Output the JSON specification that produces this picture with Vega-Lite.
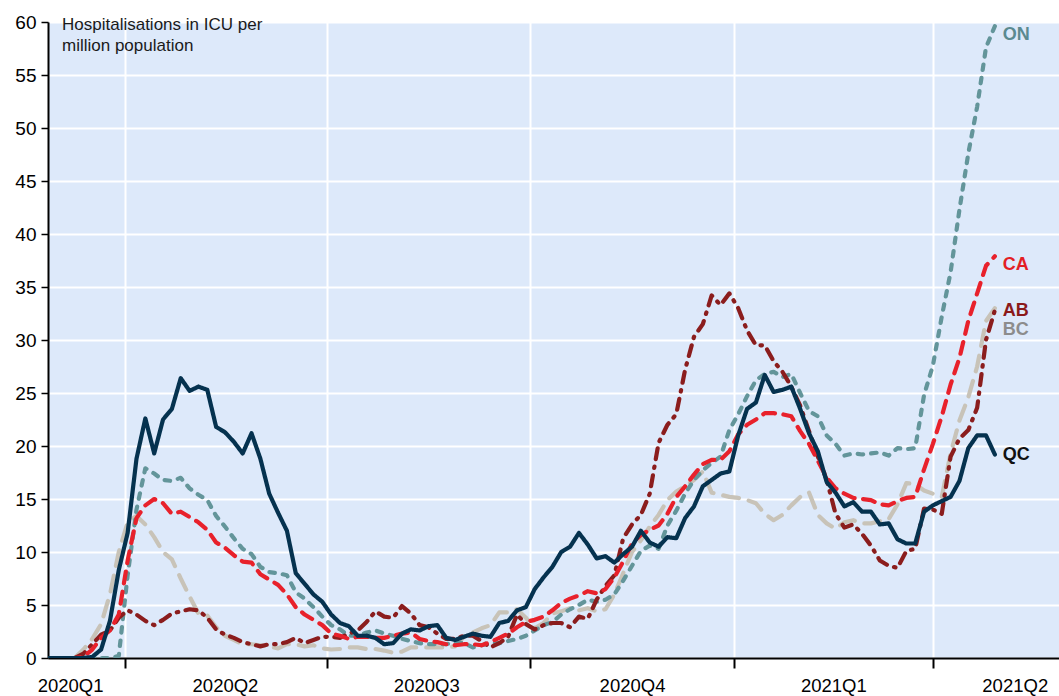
{
"$schema": "https://vega.github.io/schema/vega-lite/v6.json",
"width": 1011, "height": 636,
"autosize": {"type": "none"},
"padding": {"left": 48, "top": 22, "right": 0, "bottom": 38},
"background": "white",
"config": {"view": {"fill": "#dde9fa", "stroke": null}, "font": "Liberation Sans"},
"title": {"text": ["Hospitalisations in ICU per", "million population"], "anchor": "start", "frame": "group", "offset": -42, "dx": 14, "fontSize": 17, "fontWeight": "normal", "font": "Liberation Sans", "lineHeight": 21, "color": "#1a1a1a"},
"data": {"values": [
{"d":"2020-02-26","QC":0,"ON":0,"CA":0,"AB":0,"BC":0},
{"d":"2020-03-01","QC":0,"ON":0,"CA":0,"AB":0,"BC":0},
{"d":"2020-03-05","QC":0,"ON":0,"CA":0,"AB":0,"BC":0},
{"d":"2020-03-09","QC":0,"ON":0,"CA":0,"AB":0,"BC":0},
{"d":"2020-03-13","QC":0,"ON":0,"CA":0.1,"AB":0.4,"BC":0.8},
{"d":"2020-03-17","QC":0.1,"ON":0,"CA":0.8,"AB":1.3,"BC":1.8},
{"d":"2020-03-21","QC":0.8,"ON":0,"CA":1.9,"AB":2.2,"BC":3.2},
{"d":"2020-03-25","QC":3.5,"ON":0,"CA":2.6,"AB":2.6,"BC":6},
{"d":"2020-03-29","QC":8.3,"ON":0.2,"CA":4.1,"AB":3.8,"BC":10},
{"d":"2020-04-02","QC":11.8,"ON":7.8,"CA":9.2,"AB":4.5,"BC":12.8},
{"d":"2020-04-06","QC":18.8,"ON":14,"CA":13.2,"AB":4.1,"BC":13.4},
{"d":"2020-04-10","QC":22.6,"ON":17.9,"CA":14.4,"AB":3.5,"BC":12.6},
{"d":"2020-04-14","QC":19.3,"ON":17.4,"CA":15,"AB":3.1,"BC":11.4},
{"d":"2020-04-18","QC":22.5,"ON":16.8,"CA":14.6,"AB":3.6,"BC":10},
{"d":"2020-04-22","QC":23.5,"ON":16.7,"CA":13.6,"AB":4.2,"BC":9.3},
{"d":"2020-04-26","QC":26.4,"ON":17,"CA":13.8,"AB":4.4,"BC":7.5},
{"d":"2020-04-30","QC":25.2,"ON":16,"CA":13.3,"AB":4.6,"BC":5.8},
{"d":"2020-05-04","QC":25.6,"ON":15.4,"CA":12.8,"AB":4.5,"BC":4.2},
{"d":"2020-05-08","QC":25.3,"ON":14.9,"CA":12.1,"AB":3.8,"BC":4},
{"d":"2020-05-12","QC":21.8,"ON":13.4,"CA":10.9,"AB":2.7,"BC":2.9},
{"d":"2020-05-16","QC":21.3,"ON":12.4,"CA":10.4,"AB":2.2,"BC":2.1},
{"d":"2020-05-20","QC":20.4,"ON":11.3,"CA":9.7,"AB":1.9,"BC":1.7},
{"d":"2020-05-24","QC":19.3,"ON":10.3,"CA":9.1,"AB":1.5,"BC":1.3},
{"d":"2020-05-28","QC":21.2,"ON":9.8,"CA":9,"AB":1.3,"BC":1.3},
{"d":"2020-06-01","QC":18.8,"ON":8.6,"CA":7.9,"AB":1.1,"BC":1.2},
{"d":"2020-06-05","QC":15.5,"ON":8.1,"CA":7.4,"AB":1.3,"BC":1.1},
{"d":"2020-06-09","QC":13.7,"ON":8,"CA":6.9,"AB":1.3,"BC":0.9},
{"d":"2020-06-13","QC":12,"ON":7.8,"CA":6,"AB":1.5,"BC":1.3},
{"d":"2020-06-17","QC":8,"ON":6.2,"CA":4.8,"AB":1.9,"BC":1.3},
{"d":"2020-06-21","QC":7,"ON":5.6,"CA":4.1,"AB":1.4,"BC":1.1},
{"d":"2020-06-25","QC":6,"ON":4.8,"CA":3.6,"AB":1.7,"BC":1.2},
{"d":"2020-06-29","QC":5.3,"ON":3.9,"CA":3.1,"AB":2,"BC":0.9},
{"d":"2020-07-03","QC":4.1,"ON":3.1,"CA":2.3,"AB":2,"BC":0.8},
{"d":"2020-07-07","QC":3.3,"ON":2.7,"CA":2.1,"AB":1.9,"BC":0.85},
{"d":"2020-07-11","QC":3,"ON":2.1,"CA":1.8,"AB":2.3,"BC":1},
{"d":"2020-07-15","QC":2.1,"ON":2.1,"CA":2,"AB":2.6,"BC":1},
{"d":"2020-07-19","QC":2.1,"ON":2.4,"CA":2,"AB":3.4,"BC":0.85},
{"d":"2020-07-23","QC":1.9,"ON":2.6,"CA":1.9,"AB":4.4,"BC":0.85},
{"d":"2020-07-27","QC":1.3,"ON":2.3,"CA":1.9,"AB":3.9,"BC":0.7},
{"d":"2020-07-31","QC":1.4,"ON":2.1,"CA":2.1,"AB":3.8,"BC":0.5},
{"d":"2020-08-04","QC":2.3,"ON":1.8,"CA":2.3,"AB":4.9,"BC":0.6},
{"d":"2020-08-08","QC":2.7,"ON":1.6,"CA":2.4,"AB":4.2,"BC":1},
{"d":"2020-08-12","QC":2.6,"ON":1.4,"CA":1.8,"AB":3.1,"BC":1},
{"d":"2020-08-16","QC":3,"ON":1.3,"CA":1.6,"AB":2.9,"BC":1},
{"d":"2020-08-20","QC":3.1,"ON":1.3,"CA":1.5,"AB":2.3,"BC":1},
{"d":"2020-08-24","QC":1.9,"ON":1.3,"CA":1.3,"AB":1.8,"BC":1},
{"d":"2020-08-28","QC":1.7,"ON":1.5,"CA":1.2,"AB":1.8,"BC":1.1},
{"d":"2020-09-01","QC":2,"ON":1.4,"CA":1.3,"AB":2.1,"BC":2},
{"d":"2020-09-05","QC":2.3,"ON":1,"CA":1.3,"AB":2.1,"BC":2.4},
{"d":"2020-09-09","QC":2.1,"ON":1.2,"CA":1.2,"AB":1.6,"BC":2.8},
{"d":"2020-09-13","QC":2,"ON":1.4,"CA":1.5,"AB":1,"BC":3.1},
{"d":"2020-09-17","QC":3.3,"ON":1.4,"CA":1.9,"AB":1.4,"BC":4.3},
{"d":"2020-09-21","QC":3.5,"ON":1.6,"CA":2.3,"AB":2,"BC":4.3},
{"d":"2020-09-25","QC":4.5,"ON":1.8,"CA":2.9,"AB":4.1,"BC":4.6},
{"d":"2020-09-29","QC":4.8,"ON":2.1,"CA":3.4,"AB":3.2,"BC":3.8},
{"d":"2020-10-03","QC":6.5,"ON":2.6,"CA":3.6,"AB":2.7,"BC":2.8},
{"d":"2020-10-07","QC":7.6,"ON":3.1,"CA":3.9,"AB":3.1,"BC":3.3},
{"d":"2020-10-11","QC":8.6,"ON":3.4,"CA":4.5,"AB":3.3,"BC":4.2},
{"d":"2020-10-15","QC":10,"ON":4.1,"CA":5.2,"AB":3.3,"BC":4.4},
{"d":"2020-10-19","QC":10.5,"ON":4.6,"CA":5.6,"AB":2.9,"BC":4.7},
{"d":"2020-10-23","QC":11.8,"ON":5,"CA":5.9,"AB":3.9,"BC":4.5},
{"d":"2020-10-27","QC":10.7,"ON":5.5,"CA":6.3,"AB":3.7,"BC":4.7},
{"d":"2020-10-31","QC":9.4,"ON":5.3,"CA":6.1,"AB":5.5,"BC":4.4},
{"d":"2020-11-04","QC":9.6,"ON":5.5,"CA":6.5,"AB":6.8,"BC":4.6},
{"d":"2020-11-08","QC":9,"ON":6,"CA":7.6,"AB":7.8,"BC":6},
{"d":"2020-11-12","QC":9.8,"ON":7.3,"CA":9.1,"AB":11.3,"BC":8},
{"d":"2020-11-16","QC":10.5,"ON":8.7,"CA":10.8,"AB":12.6,"BC":10},
{"d":"2020-11-20","QC":12,"ON":10.1,"CA":11.6,"AB":13.5,"BC":11.1},
{"d":"2020-11-24","QC":10.9,"ON":10.6,"CA":12.1,"AB":15.5,"BC":12.4},
{"d":"2020-11-28","QC":10.5,"ON":10.3,"CA":12.5,"AB":20.3,"BC":13.5},
{"d":"2020-12-02","QC":11.4,"ON":12.5,"CA":13.6,"AB":22,"BC":14.9},
{"d":"2020-12-06","QC":11.3,"ON":13.9,"CA":15.2,"AB":23,"BC":15.7},
{"d":"2020-12-10","QC":13.2,"ON":15.5,"CA":16.2,"AB":27.2,"BC":16.2},
{"d":"2020-12-14","QC":14.3,"ON":16.8,"CA":17.3,"AB":30.3,"BC":16.8},
{"d":"2020-12-18","QC":16.2,"ON":17.7,"CA":18.3,"AB":31.5,"BC":17.6},
{"d":"2020-12-22","QC":16.8,"ON":18.4,"CA":18.7,"AB":34.2,"BC":15.6},
{"d":"2020-12-26","QC":17.4,"ON":19,"CA":18.7,"AB":33.3,"BC":15.4},
{"d":"2020-12-30","QC":17.6,"ON":21.5,"CA":19.5,"AB":34.4,"BC":15.2},
{"d":"2021-01-03","QC":21,"ON":23,"CA":21.1,"AB":33,"BC":15.1},
{"d":"2021-01-07","QC":23.5,"ON":24.7,"CA":22,"AB":30.9,"BC":14.9},
{"d":"2021-01-11","QC":24.1,"ON":26.2,"CA":22.5,"AB":29.5,"BC":14.6},
{"d":"2021-01-15","QC":26.7,"ON":26.8,"CA":23.1,"AB":29.5,"BC":13.6},
{"d":"2021-01-19","QC":25.1,"ON":27,"CA":23.1,"AB":28,"BC":13},
{"d":"2021-01-23","QC":25.3,"ON":26.5,"CA":23,"AB":27,"BC":13.5},
{"d":"2021-01-27","QC":25.6,"ON":26.8,"CA":22.8,"AB":25.6,"BC":14.4},
{"d":"2021-01-31","QC":23.5,"ON":25,"CA":21.4,"AB":23.8,"BC":15.2},
{"d":"2021-02-04","QC":21.2,"ON":23.3,"CA":20.2,"AB":21.4,"BC":15.6},
{"d":"2021-02-08","QC":19.5,"ON":22.8,"CA":18.6,"AB":19,"BC":13.5},
{"d":"2021-02-12","QC":16.6,"ON":21,"CA":17,"AB":16.8,"BC":12.7},
{"d":"2021-02-16","QC":15.6,"ON":20.2,"CA":16,"AB":13.6,"BC":12.2},
{"d":"2021-02-20","QC":14.3,"ON":19.1,"CA":15.5,"AB":12.3,"BC":12.8},
{"d":"2021-02-24","QC":14.7,"ON":19.3,"CA":15.1,"AB":12.6,"BC":13},
{"d":"2021-02-28","QC":13.8,"ON":19.2,"CA":15,"AB":11.7,"BC":12.7},
{"d":"2021-03-04","QC":13.8,"ON":19.3,"CA":14.9,"AB":10.6,"BC":12.7},
{"d":"2021-03-08","QC":12.6,"ON":19.4,"CA":14.5,"AB":9.2,"BC":12.9},
{"d":"2021-03-12","QC":12.7,"ON":19.1,"CA":14.4,"AB":8.7,"BC":13.1},
{"d":"2021-03-16","QC":11.2,"ON":19.8,"CA":14.8,"AB":8.5,"BC":14.5},
{"d":"2021-03-20","QC":10.8,"ON":19.7,"CA":15.1,"AB":10.1,"BC":16.5},
{"d":"2021-03-24","QC":10.8,"ON":19.8,"CA":15.2,"AB":10.3,"BC":16.4},
{"d":"2021-03-28","QC":13.8,"ON":24.8,"CA":17.8,"AB":14.1,"BC":15.8},
{"d":"2021-04-01","QC":14.4,"ON":27.6,"CA":20.2,"AB":14,"BC":15.5},
{"d":"2021-04-05","QC":14.8,"ON":32.2,"CA":22.8,"AB":13.6,"BC":15.2},
{"d":"2021-04-09","QC":15.2,"ON":36.4,"CA":25.8,"AB":19,"BC":19.3},
{"d":"2021-04-13","QC":16.7,"ON":42.3,"CA":28.3,"AB":20.7,"BC":22.4},
{"d":"2021-04-17","QC":19.8,"ON":47.6,"CA":31.8,"AB":21.5,"BC":24.6},
{"d":"2021-04-21","QC":21,"ON":52,"CA":34.4,"AB":23.6,"BC":27.5},
{"d":"2021-04-25","QC":21,"ON":57.6,"CA":37,"AB":30,"BC":31.8},
{"d":"2021-04-29","QC":19.2,"ON":59.6,"CA":37.9,"AB":32.8,"BC":33}
]},
"transform": [{"fold": ["BC","ON","AB","CA","QC"], "as": ["s","v"]}],
"encoding": {
  "x": {"field": "d", "type": "temporal",
    "scale": {"domain": [{"year":2020,"month":2,"date":26,"utc":true},{"year":2021,"month":5,"date":28,"utc":true}], "nice": false},
    "axis": {"title": null,
      "values": [
        {"year":2020,"month":4,"date":1,"utc":true},{"year":2020,"month":7,"date":1,"utc":true},{"year":2020,"month":10,"date":1,"utc":true},{"year":2021,"month":1,"date":1,"utc":true},{"year":2021,"month":4,"date":1,"utc":true},
        {"year":2020,"month":3,"date":7,"utc":true},{"year":2020,"month":5,"date":16,"utc":true},{"year":2020,"month":8,"date":15,"utc":true},{"year":2020,"month":11,"date":16,"utc":true},{"year":2021,"month":2,"date":15,"utc":true},{"year":2021,"month":5,"date":8,"utc":true}
      ],
      "labelExpr": "utcdate(datum.value) == 1 ? '' : utcyear(datum.value) + 'Q' + (floor(utcmonth(datum.value) / 3) + 1)",
      "tickColor": {"condition": {"test": "utcdate(datum.value) == 1", "value": "#000000"}, "value": "transparent"},
      "tickSize": 10, "tickWidth": 2,
      "grid": true, "gridWidth": 2,
      "gridColor": {"condition": {"test": "utcdate(datum.value) == 1", "value": "#ffffff"}, "value": "transparent"},
      "domainColor": "#000000", "domainWidth": 2,
      "labelFontSize": 18.5, "labelColor": "#000000", "labelPadding": 8, "labelFont": "Liberation Sans",
      "labelOverlap": false, "labelFlush": false, "labelBound": false}
  },
  "y": {"field": "v", "type": "quantitative",
    "scale": {"domain": [0, 60], "nice": false},
    "axis": {"title": null, "values": [0,5,10,15,20,25,30,35,40,45,50,55,60],
      "grid": true, "gridColor": "#ffffff", "gridWidth": 2,
      "tickColor": "#000000", "tickSize": 7, "tickWidth": 1.5,
      "domainColor": "#000000", "domainWidth": 2,
      "labelFontSize": 19, "labelColor": "#000000", "labelPadding": 5, "labelFont": "Liberation Sans"}
  }
},
"layer": [
  {"mark": {"type": "line", "strokeWidth": 4.2, "strokeCap": "round", "strokeJoin": "round", "clip": true},
   "encoding": {
     "color": {"field": "s", "type": "nominal", "legend": null,
       "scale": {"domain": ["QC","ON","CA","AB","BC"], "range": ["#05324f","#63959a","#e8212b","#8b1d1d","#c8c3b8"]}},
     "strokeDash": {"field": "s", "type": "nominal", "legend": null,
       "scale": {"domain": ["QC","ON","CA","AB","BC"], "range": [[1,0],[5.5,8],[12,8.5],[11,7.5,1.5,7.5],[16,10]]}}
   }},
  {"transform": [{"joinaggregate": [{"op": "max", "field": "d", "as": "dmax"}]}, {"filter": "+datum.d === +datum.dmax && (datum.s === 'ON' || datum.s === 'CA')"}],
   "mark": {"type": "text", "align": "left", "baseline": "middle", "dx": 8, "dy": 8.5, "fontSize": 18, "fontWeight": "bold", "font": "Liberation Sans"},
   "encoding": {"text": {"field": "s"},
     "fill": {"field": "s", "type": "nominal", "legend": null, "scale": {"domain": ["QC","ON","CA","AB","BC"], "range": ["#111111","#5b8a90","#e31e24","#8b1a1a","#8c8c8c"]}}}},
  {"transform": [{"joinaggregate": [{"op": "max", "field": "d", "as": "dmax"}]}, {"filter": "+datum.d === +datum.dmax && (datum.s === 'AB' || datum.s === 'QC')"}],
   "mark": {"type": "text", "align": "left", "baseline": "middle", "dx": 8, "dy": 1, "fontSize": 18, "fontWeight": "bold", "font": "Liberation Sans"},
   "encoding": {"text": {"field": "s"},
     "fill": {"field": "s", "type": "nominal", "legend": null, "scale": {"domain": ["QC","ON","CA","AB","BC"], "range": ["#111111","#5b8a90","#e31e24","#8b1a1a","#8c8c8c"]}}}},
  {"transform": [{"joinaggregate": [{"op": "max", "field": "d", "as": "dmax"}]}, {"filter": "+datum.d === +datum.dmax && datum.s === 'BC'"}],
   "mark": {"type": "text", "align": "left", "baseline": "middle", "dx": 8, "dy": 22, "fontSize": 18, "fontWeight": "bold", "font": "Liberation Sans"},
   "encoding": {"text": {"field": "s"},
     "fill": {"field": "s", "type": "nominal", "legend": null, "scale": {"domain": ["QC","ON","CA","AB","BC"], "range": ["#111111","#5b8a90","#e31e24","#8b1a1a","#8c8c8c"]}}}}
]
}
